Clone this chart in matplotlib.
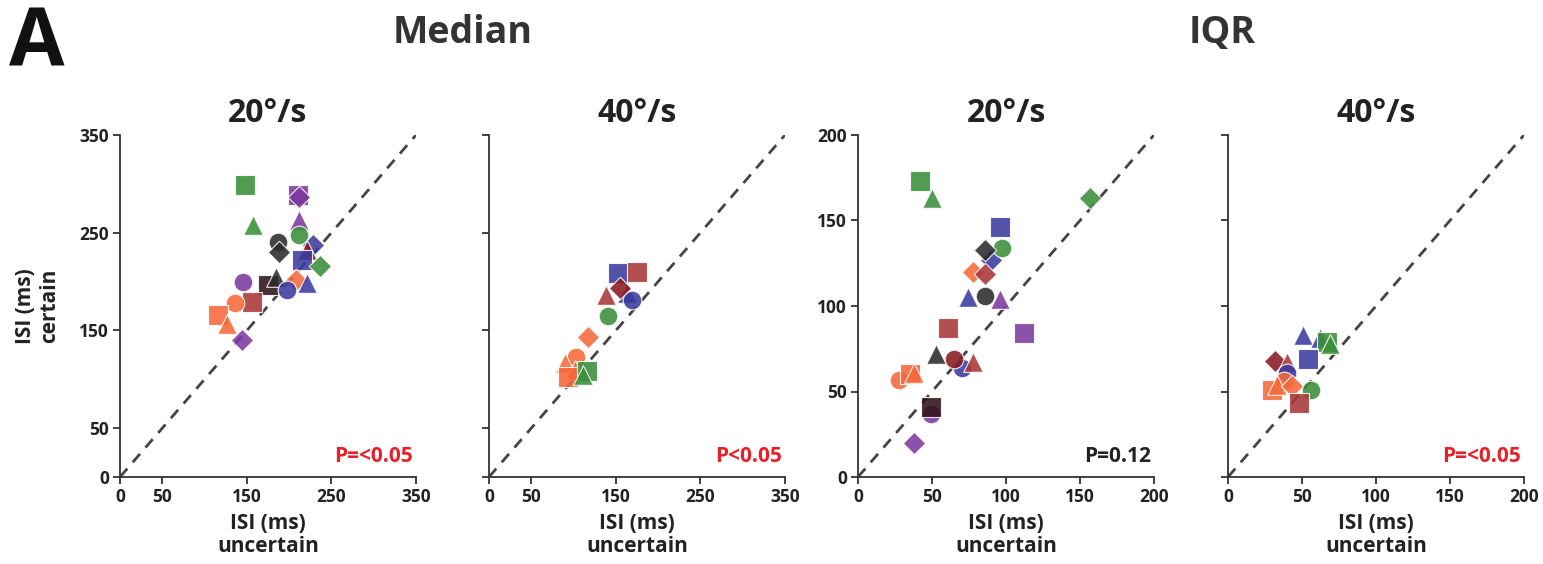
import matplotlib
matplotlib.use('Agg')
import matplotlib.pyplot as plt

plt.rcParams['font.family'] = ['Open Sans', 'DejaVu Sans']
plt.rcParams['font.weight'] = 'bold'

# colour per subject
palette = {'g': '#3a8f3a', 'p': '#7b3a9e', 'b': '#3b3ba0', 'dr': '#8b1a22',
           'r': '#a83838', 'o': '#f5683a', 'k': '#2b2b2b', 'br': '#2e1418'}

# --- Median 20 deg/s ---
med20_x = [148, 210, 212, 157, 212, 212, 187, 188, 228, 221, 215, 236, 146, 175, 185, 208, 221, 198, 156, 136, 116, 126, 144]
med20_y = [299, 289, 287, 258, 263, 248, 240, 230, 237, 232, 222, 216, 200, 196, 205, 202, 199, 191, 179, 178, 166, 157, 140]
med20_c = ['g', 'p', 'p', 'g', 'p', 'g', 'k', 'k', 'b', 'dr', 'b', 'g', 'p', 'br', 'k', 'o', 'b', 'b', 'r', 'o', 'o', 'o', 'p']
med20_m = ['s', 's', 'D', '^', '^', 'o', 'o', 'D', 'D', '^', 's', 'D', 'o', 's', '^', 'D', '^', 'o', 's', 'o', 's', '^', 'D']

# --- Median 40 deg/s ---
med40_x = [152, 175, 163, 169, 155, 138, 141, 117, 103, 90, 102, 93, 116, 111]
med40_y = [209, 210, 188, 181, 193, 186, 165, 143, 123, 117, 110, 102, 108, 104]
med40_c = ['b', 'r', 'b', 'b', 'dr', 'r', 'g', 'o', 'o', 'o', 'o', 'o', 'g', 'g']
med40_m = ['s', 's', '^', 'o', 'D', '^', 'o', 'D', 'o', '^', '^', 's', 's', '^']

# --- IQR 20 deg/s ---
iqr20_x = [42, 50, 157, 96, 90, 97, 86, 78, 86, 74, 86, 96, 61, 112, 53, 70, 65, 78, 28, 35, 38, 49, 49, 38]
iqr20_y = [173, 163, 163, 146, 127, 134, 133, 120, 119, 105, 106, 104, 87, 84, 72, 64, 69, 67, 57, 60, 61, 37, 41, 20]
iqr20_c = ['g', 'g', 'g', 'b', 'b', 'g', 'k', 'o', 'r', 'b', 'k', 'p', 'r', 'p', 'k', 'b', 'dr', 'r', 'o', 'o', 'o', 'p', 'br', 'p']
iqr20_m = ['s', '^', 'D', 's', 'D', 'o', 'D', 'D', 'D', '^', 'o', '^', 's', 's', '^', 'o', 'o', '^', 'o', 's', '^', 'o', 's', 'D']

# --- IQR 40 deg/s ---
iqr40_x = [51, 62, 67, 69, 54, 32, 40, 40, 30, 38, 33, 43, 56, 48]
iqr40_y = [83, 81, 79, 78, 69, 68, 67, 61, 51, 56, 54, 53, 51, 43]
iqr40_c = ['b', 'b', 'g', 'g', 'b', 'dr', 'r', 'b', 'o', 'o', 'o', 'o', 'g', 'r']
iqr40_m = ['^', '^', 's', '^', 's', 'D', '^', 'o', 's', 'o', '^', 'D', 'o', 's']

titles = ['20°/s', '40°/s', '20°/s', '40°/s']
pvals = ['P=<0.05', 'P<0.05', 'P=0.12', 'P=<0.05']
pcols = ['#e8202a', '#e8202a', '#222222', '#e8202a']
lims = [350, 350, 200, 200]
yticks = [[0, 50, 150, 250, 350], [0, 50, 150, 250, 350], [0, 50, 100, 150, 200], [0, 50, 100, 150, 200]]
xticks = [[0, 50, 150, 250, 350], [0, 50, 150, 250, 350], [0, 50, 100, 150, 200], [0, 50, 100, 150, 200]]
panels = [(med20_x, med20_y, med20_c, med20_m), (med40_x, med40_y, med40_c, med40_m),
          (iqr20_x, iqr20_y, iqr20_c, iqr20_m), (iqr40_x, iqr40_y, iqr40_c, iqr40_m)]

W, H = 1543, 564
fig = plt.figure(figsize=(W / 100, H / 100), dpi=100)
lefts = [120, 489, 858, 1228]
sizes = {'s': 210, 'o': 180, '^': 200, 'D': 130}

for i, (xs, ys, cs, ms) in enumerate(panels):
    ax = fig.add_axes([lefts[i] / W, (H - 477) / H, 296 / W, 342 / H])
    lim = lims[i]
    ax.plot([0, lim], [0, lim], ls=(0, (4, 3)), color='#444444', lw=2, zorder=1)
    for x, y, c, m in zip(xs, ys, cs, ms):
        ax.scatter(x, y, s=sizes[m], marker=m, color=palette[c], alpha=0.88,
                   edgecolors='white', linewidths=0.8, zorder=3)
    ax.set_xlim(0, lim)
    ax.set_ylim(0, lim)
    ax.set_xticks(xticks[i])
    ax.set_yticks(yticks[i])
    for s in ['top', 'right']:
        ax.spines[s].set_visible(False)
    for s in ['left', 'bottom']:
        ax.spines[s].set_linewidth(1.3)
        ax.spines[s].set_color('#333333')
    ax.tick_params(labelsize=12.5, width=1.3, length=5, colors='#333333', labelcolor='#222222', pad=3)
    if i in (1, 3):
        ax.set_yticklabels([])
    else:
        for lab in ax.get_yticklabels():
            lab.set_fontweight('bold')
    for lab in ax.get_xticklabels():
        lab.set_fontweight('bold')
    ax.set_title(titles[i], fontsize=23, fontweight='bold', pad=9, color='#222222')
    ax.set_xlabel('ISI (ms)\nuncertain', fontsize=15, fontweight='bold', labelpad=5,
                  linespacing=1.1, color='#222222')
    if i == 0:
        ax.set_ylabel('ISI (ms)\ncertain', fontsize=15, fontweight='bold', labelpad=14,
                      linespacing=1.15, color='#222222')
    ax.text(0.99, 0.03, pvals[i], transform=ax.transAxes, ha='right', va='bottom',
            fontsize=15, fontweight='bold', color=pcols[i])

fig.text(37 / W, 1 - 46 / H, 'A', fontsize=58, fontweight='bold', ha='center', va='center', color='#111111')
fig.text(463 / W, 1 - 33 / H, 'Median', fontsize=27, fontweight='bold', ha='center', va='center', color='#333333')
fig.text(1222 / W, 1 - 33 / H, 'IQR', fontsize=27, fontweight='bold', ha='center', va='center', color='#333333')

fig.savefig('out.png', dpi=100)
